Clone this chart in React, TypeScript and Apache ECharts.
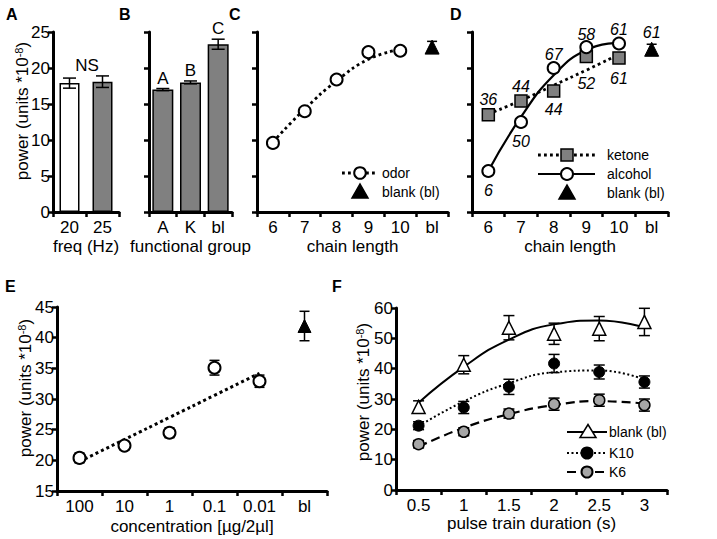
import React, { useEffect, useRef } from 'react';
import * as echarts from 'echarts';

const FONT = '"Liberation Sans", Arial, Helvetica, sans-serif';

// ---------- data ----------
const aCategories = ['20', '25'];
const aMeans = [17.9, 18.1];
const aErrors = [0.7, 0.8];

const bCategories = ['A', 'K', 'bl'];
const bMeans = [17.0, 18.0, 23.3];
const bErrors = [0.15, 0.2, 0.7];
const bLetters = ['A', 'B', 'C'];

const chainCategories = ['6', '7', '8', '9', '10', 'bl'];
const cOdor = [9.6, 14.0, 18.4, 22.2, 22.4];
const cOdorErr = [0.3, 0.3, 0.3, 0.4, 0.6];
const cOdorFit = [9.7, 14.3, 18.2, 21.2, 22.6];
const cBlank = [22.9];
const cBlankErr = [0.8];

const dKetone = [13.5, 15.4, 16.8, 21.6, 21.4];
const dKetoneErr = [0.3, 0.4, 0.3, 0.5, 0.6];
const dKetoneFit = [13.6, 15.5, 17.6, 19.7, 21.9];
const dKetoneLabels = ['36', '44', '44', '52', '61'];
const dAlcohol = [5.7, 12.5, 20.0, 22.9, 23.4];
const dAlcoholErr = [0.3, 0.3, 0.3, 0.4, 0.4];
const dAlcoholFit = [5.7, 13.2, 19.0, 22.5, 23.5];
const dAlcoholLabels = ['6', '50', '67', '58', '61'];
const dBlank = [22.6];
const dBlankErr = [0.7];
const dBlankLabels = ['61'];

const concCategories = ['100', '10', '1', '0.1', '0.01', 'bl'];
const eMeans = [20.4, 22.4, 24.5, 35.1, 32.9];
const eErrors = [0.8, 0.7, 0.8, 1.2, 1.0];
const eFit = [19.8, 23.4, 27.0, 30.6, 34.2];
const eBlank = [41.9];
const eBlankErr = [2.4];

const durCategories = ['0.5', '1', '1.5', '2', '2.5', '3'];
const fBlank = [27.4, 41.3, 53.5, 51.5, 53.2, 55.4];
const fBlankErr = [2, 3, 4, 3.5, 4, 4.5];
const fBlankFit = [28.8, 40.6, 49.6, 54.6, 55.9, 53.6];
const fK10 = [21.2, 27.2, 34.0, 41.7, 38.9, 35.6];
const fK10Err = [1.3, 2, 2.5, 3, 2.3, 2];
const fK10Fit = [21.0, 29.2, 35.2, 38.8, 39.4, 36.4];
const fK6 = [15.1, 19.2, 25.2, 28.3, 29.6, 28.0];
const fK6Err = [1.2, 1.3, 1.5, 2, 2, 2];
const fK6Fit = [14.3, 20.5, 25.0, 28.0, 29.3, 28.5];

// ---------- styling (offsets for labels, kept apart from data) ----------
const dKetoneLabelDy = [-15, -15, 18, 27, 21];
const dAlcoholLabelDy = [20, 19, -14, -13, -14];
const dBlankLabelDy = [-17];
const bLetterDist = [3, 3, 7];

const AX = { color: '#000', width: 3 };
const TK = { color: '#000', width: 2.5 };
const YNAME = 'power (units *10{sup|-8})';

function xAxis(gridIndex: number, data: string[], name: string, nameGap: number) {
  return {
    type: 'category', gridIndex, data,
    axisLine: { show: true, lineStyle: AX },
    axisTick: { show: true, length: 5, lineStyle: TK },
    axisLabel: { color: '#000', fontSize: 17, fontFamily: FONT, margin: 7, interval: 0 },
    splitLine: { show: false },
    name, nameLocation: 'middle', nameGap,
    nameTextStyle: { color: '#000', fontSize: 17, fontFamily: FONT },
  };
}
function yAxis(gridIndex: number, min: number, max: number, interval: number, showLabels: boolean) {
  return {
    type: 'value', gridIndex, min, max, interval,
    axisLine: { show: true, onZero: false, lineStyle: AX },
    axisTick: { show: true, length: 5, lineStyle: TK },
    axisLabel: { show: showLabels, color: '#000', fontSize: 17, fontFamily: FONT, margin: 3 },
    splitLine: { show: false },
  };
}

function errorBars(ai: number, cats: string[], centers: number[], errs: number[], cap: number, offset = 0, lw = 1.5) {
  return {
    type: 'custom', xAxisIndex: ai, yAxisIndex: ai, z: 3, silent: true,
    encode: { x: 0, y: [1, 2] },
    data: centers.map((m, i) => [cats[i + offset], m - errs[i], m + errs[i]]),
    renderItem: (_p: any, api: any) => {
      const x = api.value(0);
      const lo = api.coord([x, api.value(1)]);
      const hi = api.coord([x, api.value(2)]);
      const style = { stroke: '#000', lineWidth: lw, fill: 'none' };
      const h = cap / 2;
      return {
        type: 'group',
        children: [
          { type: 'line', shape: { x1: lo[0], y1: lo[1], x2: hi[0], y2: hi[1] }, style },
          { type: 'line', shape: { x1: lo[0] - h, y1: lo[1], x2: lo[0] + h, y2: lo[1] }, style },
          { type: 'line', shape: { x1: hi[0] - h, y1: hi[1], x2: hi[0] + h, y2: hi[1] }, style },
        ],
      };
    },
  };
}

function points(ai: number, cats: string[], vals: number[], symbol: string, size: number, fill: string, border: string, bw: number, offset = 0, labels?: string[], dys?: number[]) {
  return {
    type: 'scatter', xAxisIndex: ai, yAxisIndex: ai, z: 4, symbol, symbolSize: size,
    itemStyle: { color: fill, borderColor: border, borderWidth: bw, opacity: 1 },
    data: vals.map((v, i) => {
      const item: any = { value: [cats[i + offset], v] };
      if (labels) {
        item.label = {
          show: true, position: 'inside', offset: [0, dys ? dys[i] : 0],
          formatter: labels[i], color: '#000', fontSize: 16, fontStyle: 'italic', fontFamily: FONT,
        };
      }
      return item;
    }),
  };
}

function fitLine(ai: number, vals: number[], width: number, type: any) {
  return {
    type: 'line', xAxisIndex: ai, yAxisIndex: ai, z: 2, smooth: true, symbol: 'none', silent: true,
    lineStyle: { color: '#000', width, type, cap: 'butt' },
    data: vals,
  };
}

function yName(x: number, y: number) {
  return {
    type: 'text', x, y, rotation: Math.PI / 2,
    style: {
      text: YNAME, fill: '#000', fontSize: 17, fontFamily: FONT, align: 'center', verticalAlign: 'middle',
      rich: { sup: { fontSize: 11, fontFamily: FONT, fill: '#000', verticalAlign: 'top' } },
    },
  };
}
function txt(x: number, y: number, text: string, size = 14, align = 'left', bold = false) {
  return {
    type: 'text', x, y,
    style: { text, fill: '#000', fontSize: size, fontFamily: FONT, fontWeight: bold ? 'bold' : 'normal', align, verticalAlign: 'middle' },
  };
}
function hline(x1: number, x2: number, y: number, width: number, dash?: number[]) {
  return { type: 'line', shape: { x1, y1: y, x2, y2: y }, style: { stroke: '#000', lineWidth: width, lineDash: dash || null } };
}
function tri(cx: number, cy: number, w: number, h: number, fill: string) {
  return {
    type: 'polygon',
    shape: { points: [[cx - w / 2, cy + h / 2], [cx + w / 2, cy + h / 2], [cx, cy - h / 2]] },
    style: { fill, stroke: '#000', lineWidth: 1.5 },
  };
}
function circ(cx: number, cy: number, r: number, fill: string) {
  return { type: 'circle', shape: { cx, cy, r }, style: { fill, stroke: '#000', lineWidth: 2 } };
}

export default function App() {
  const ref = useRef<HTMLDivElement>(null);
  useEffect(() => {
    if (!ref.current) return;
    const chart = echarts.init(ref.current, null, { renderer: 'svg' });
    const option: any = {
      animation: false,
      backgroundColor: '#fff',
      grid: [
        { left: 53, top: 32, width: 66, height: 180 },
        { left: 149, top: 32, width: 83, height: 180 },
        { left: 257, top: 32, width: 191, height: 180 },
        { left: 472, top: 32, width: 196, height: 180 },
        { left: 57, top: 307, width: 270, height: 184 },
        { left: 396, top: 308, width: 271, height: 182 },
      ],
      xAxis: [
        xAxis(0, aCategories, 'freq (Hz)', 26),
        xAxis(1, bCategories, 'functional group', 26),
        xAxis(2, chainCategories, 'chain length', 26),
        xAxis(3, chainCategories, 'chain length', 26),
        xAxis(4, concCategories, 'concentration [µg/2µl]', 27),
        xAxis(5, durCategories, 'pulse train duration (s)', 24),
      ],
      yAxis: [
        yAxis(0, 0, 25, 5, true),
        yAxis(1, 0, 25, 5, false),
        yAxis(2, 0, 25, 5, false),
        yAxis(3, 0, 25, 5, false),
        yAxis(4, 15, 45, 5, true),
        yAxis(5, 0, 60, 10, true),
      ],
      series: [
        // A
        {
          type: 'bar', xAxisIndex: 0, yAxisIndex: 0, barWidth: 20, z: 2,
          itemStyle: { borderColor: '#000', borderWidth: 1.5 },
          data: aMeans.map((v, i) => ({ value: v, itemStyle: { color: i === 0 ? '#ffffff' : '#808080' } })),
        },
        errorBars(0, aCategories, aMeans, aErrors, 13),
        // B
        {
          type: 'bar', xAxisIndex: 1, yAxisIndex: 1, barWidth: 21, z: 2,
          itemStyle: { color: '#808080', borderColor: '#000', borderWidth: 1.5 },
          data: bMeans.map((v, i) => ({
            value: v,
            label: { show: true, position: 'top', distance: bLetterDist[i], formatter: bLetters[i], color: '#000', fontSize: 17, fontFamily: FONT },
          })),
        },
        errorBars(1, bCategories, bMeans, bErrors, 13),
        // C
        fitLine(2, cOdorFit, 2.8, [2.8, 3.2]),
        errorBars(2, chainCategories, cOdor, cOdorErr, 9),
        points(2, chainCategories, cOdor, 'circle', 12, '#fff', '#000', 2),
        errorBars(2, chainCategories, cBlank, cBlankErr, 10, 5),
        points(2, chainCategories, cBlank, 'triangle', 14, '#000', '#000', 1, 5),
        // D
        fitLine(3, dKetoneFit, 2.8, [2.8, 3.2]),
        fitLine(3, dAlcoholFit, 2.2, 'solid'),
        errorBars(3, chainCategories, dKetone, dKetoneErr, 9),
        errorBars(3, chainCategories, dAlcohol, dAlcoholErr, 9),
        points(3, chainCategories, dKetone, 'rect', 12, '#808080', '#000', 1.5, 0, dKetoneLabels, dKetoneLabelDy),
        points(3, chainCategories, dAlcohol, 'circle', 12, '#fff', '#000', 2, 0, dAlcoholLabels, dAlcoholLabelDy),
        errorBars(3, chainCategories, dBlank, dBlankErr, 10, 5),
        points(3, chainCategories, dBlank, 'triangle', 14, '#000', '#000', 1, 5, dBlankLabels, dBlankLabelDy),
        // E
        fitLine(4, eFit, 3, [3, 3]),
        errorBars(4, concCategories, eMeans, eErrors, 10),
        points(4, concCategories, eMeans, 'circle', 12, '#fff', '#000', 2),
        errorBars(4, concCategories, eBlank, eBlankErr, 10, 5),
        points(4, concCategories, eBlank, 'triangle', 13, '#000', '#000', 1, 5),
        // F
        fitLine(5, fBlankFit, 2, 'solid'),
        fitLine(5, fK10Fit, 2, [2, 2.5]),
        fitLine(5, fK6Fit, 2.2, [9, 5]),
        errorBars(5, durCategories, fBlank, fBlankErr, 11),
        errorBars(5, durCategories, fK10, fK10Err, 11),
        errorBars(5, durCategories, fK6, fK6Err, 11),
        points(5, durCategories, fBlank, 'triangle', 13, '#fff', '#000', 1.5),
        points(5, durCategories, fK10, 'circle', 11, '#000', '#000', 1),
        points(5, durCategories, fK6, 'circle', 11, '#a6a6a6', '#000', 1.5),
      ],
      graphic: [
        // panel letters
        txt(6, 14, 'A', 16, 'left', true),
        txt(119, 14, 'B', 16, 'left', true),
        txt(229, 14, 'C', 16, 'left', true),
        txt(450, 14, 'D', 16, 'left', true),
        txt(5, 286, 'E', 16, 'left', true),
        txt(332, 286, 'F', 16, 'left', true),
        // y names
        yName(22, 111),
        yName(25, 388),
        yName(363, 392),
        // NS
        txt(87, 65, 'NS', 17, 'center'),
        // legend C
        hline(342, 378, 173, 2.8, [2.8, 3.2]),
        circ(360, 173, 5.8, '#fff'),
        txt(382, 173, 'odor'),
        tri(360, 191, 16, 14, '#000'),
        txt(382, 192, 'blank (bl)'),
        // legend D
        hline(538, 595, 155, 2.8, [2.8, 3.2]),
        { type: 'rect', shape: { x: 561, y: 149, width: 12, height: 12 }, style: { fill: '#808080', stroke: '#000', lineWidth: 1.5 } },
        txt(607, 155, 'ketone'),
        hline(538, 595, 174, 2.2),
        circ(567, 174, 6, '#fff'),
        txt(607, 174, 'alcohol'),
        tri(567, 192, 16, 14, '#000'),
        txt(607, 193, 'blank (bl)'),
        // legend F
        hline(567, 607, 432, 2),
        tri(588, 431, 16, 13, '#fff'),
        txt(609, 432, 'blank (bl)'),
        hline(567, 607, 453, 2, [2, 2.5]),
        circ(587, 453, 5.5, '#000'),
        txt(609, 453, 'K10'),
        hline(567, 607, 472, 2.2, [9, 5]),
        circ(587, 472, 5.5, '#a6a6a6'),
        txt(609, 472, 'K6'),
      ],
    };
    chart.setOption(option);
    return () => chart.dispose();
  }, []);
  return <div ref={ref} style={{ position: 'absolute', left: 0, top: 0, width: 717, height: 539, background: '#fff' }} />;
}
